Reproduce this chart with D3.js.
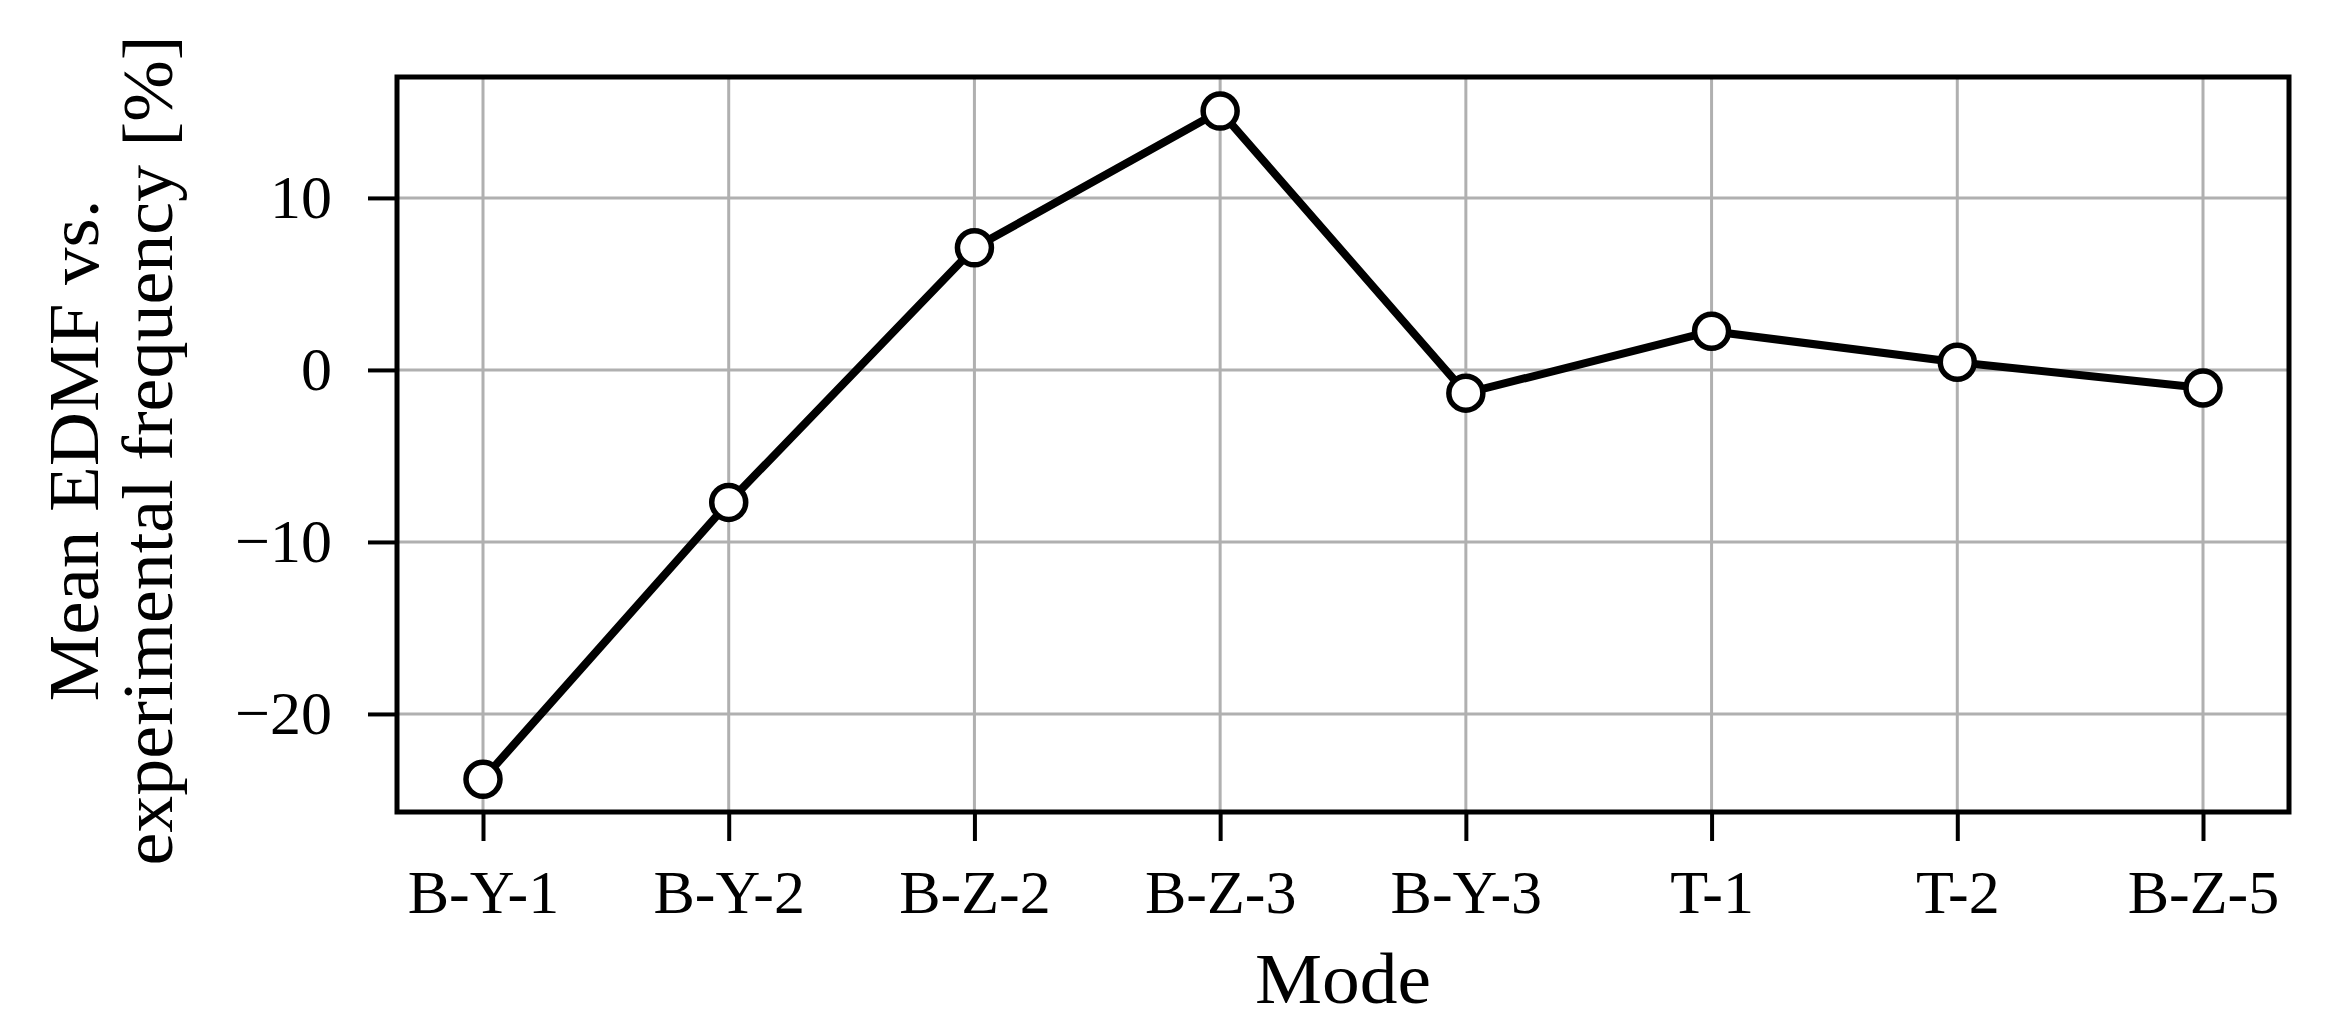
<!DOCTYPE html>
<html>
<head>
<meta charset="utf-8">
<script src="https://cdn.jsdelivr.net/npm/d3@7/dist/d3.min.js"></script>
<style>
  html, body { margin: 0; padding: 0; background: #fff; }
  svg { display: block; }
  text { font-family: "Liberation Serif", "DejaVu Serif", serif; fill: #000; }
</style>
</head>
<body>
<svg id="chart" width="2330" height="1030"></svg>
<script>
// ---- data ----
const modes = ["B-Y-1", "B-Y-2", "B-Z-2", "B-Z-3", "B-Y-3", "T-1", "T-2", "B-Z-5"];
const meanDiff = [-23.8, -7.7, 7.1, 15.05, -1.35, 2.25, 0.45, -1.05];
const yTicks = [-20, -10, 0, 10];
const yDomain = [-25.7, 17.03];
const xLabel = "Mode";
const yLabelLines = ["Mean EDMF vs.", "experimental frequency [%]"];

(function () {
  // ---- layout ----
  const pLeft = 397, pRight = 2289, pTop = 77, pBottom = 812;

  const svg = d3.select("#chart");

  const x = d3.scalePoint().domain(modes).range([pLeft, pRight]).padding(0.35);
  const y = d3.scaleLinear().domain(yDomain).range([pBottom, pTop]);

  // grid
  const grid = svg.append("g").attr("stroke", "#b0b0b0").attr("stroke-width", 3);
  grid.selectAll("line.gx").data(modes).join("line")
    .attr("class", "gx")
    .attr("x1", d => x(d)).attr("x2", d => x(d))
    .attr("y1", pTop).attr("y2", pBottom);
  grid.selectAll("line.gy").data(yTicks).join("line")
    .attr("class", "gy")
    .attr("x1", pLeft).attr("x2", pRight)
    .attr("y1", d => y(d)).attr("y2", d => y(d));

  // axes
  const xAxis = svg.append("g")
    .attr("transform", `translate(0,${pBottom})`)
    .call(d3.axisBottom(x).tickSize(29).tickPadding(28));
  const yAxis = svg.append("g")
    .attr("transform", `translate(${pLeft},0)`)
    .call(d3.axisLeft(y).tickValues(yTicks).tickSize(29).tickPadding(36).tickFormat(d3.format("d")));
  [xAxis, yAxis].forEach(a => {
    a.select(".domain").remove();
    a.selectAll(".tick line").attr("stroke", "#000").attr("stroke-width", 4);
    a.selectAll(".tick text").attr("font-size", 62)
      .attr("font-family", '"Liberation Serif", "DejaVu Serif", serif').attr("fill", "#000");
  });

  // line
  const pts = modes.map((m, i) => [x(m), y(meanDiff[i])]);
  svg.append("path")
    .attr("d", d3.line()(pts))
    .attr("fill", "none").attr("stroke", "#000")
    .attr("stroke-width", 8).attr("stroke-linejoin", "round").attr("stroke-linecap", "round");

  // markers
  svg.append("g").selectAll("circle").data(modes).join("circle")
    .attr("cx", d => x(d)).attr("cy", (d, i) => y(meanDiff[i]))
    .attr("r", 17)
    .attr("fill", "#fff").attr("stroke", "#000").attr("stroke-width", 5.5);

  // frame
  svg.append("rect")
    .attr("x", pLeft).attr("y", pTop)
    .attr("width", pRight - pLeft).attr("height", pBottom - pTop)
    .attr("fill", "none").attr("stroke", "#000").attr("stroke-width", 5);

  // labels
  svg.append("text")
    .attr("x", (pLeft + pRight) / 2).attr("y", 1003)
    .attr("text-anchor", "middle").attr("font-size", 72)
    .attr("textLength", 176).attr("lengthAdjust", "spacingAndGlyphs")
    .text(xLabel);

  const yl = svg.append("g");
  const yBase = [98, 172];
  const yLen = [502, 830];
  yLabelLines.forEach((t, i) => {
    yl.append("text")
      .attr("transform", `translate(${yBase[i]},${(pTop + pBottom) / 2 + 6}) rotate(-90)`)
      .attr("text-anchor", "middle").attr("font-size", 71)
      .attr("textLength", yLen[i]).attr("lengthAdjust", "spacingAndGlyphs")
      .text(t);
  });
})();
</script>
</body>
</html>
